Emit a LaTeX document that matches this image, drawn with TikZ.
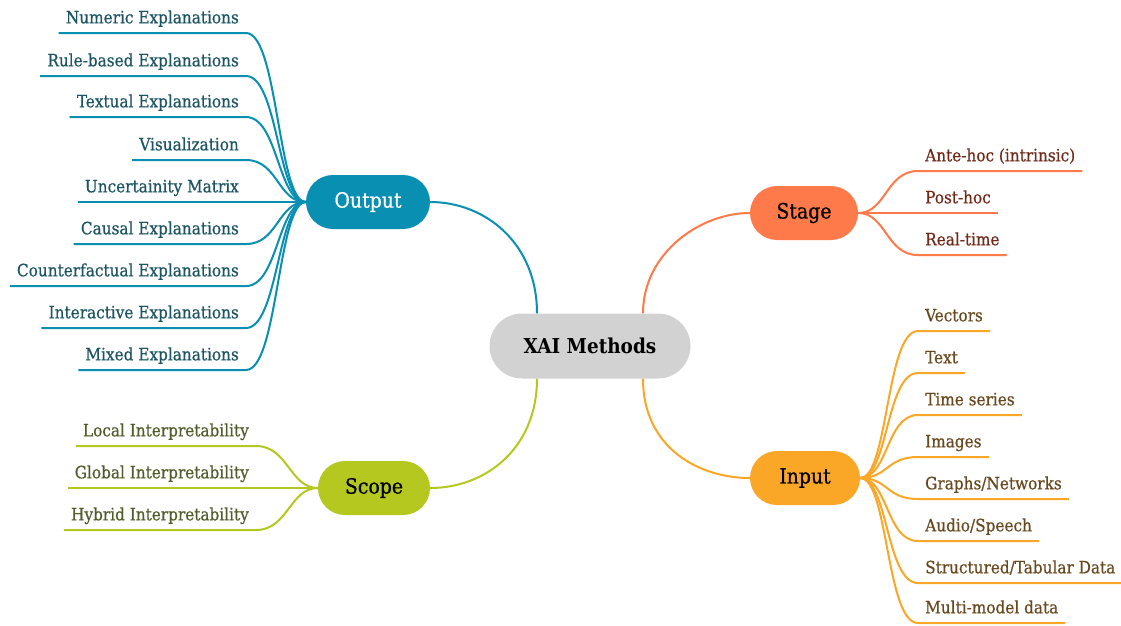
\documentclass[tikz,border=0pt]{standalone}
\usepackage{fontspec}
\setmainfont{DejaVu Serif Condensed}
\newfontfamily\leaffont{DejaVu Serif Condensed}[FakeBold=0.6]
\usepackage{tikz}
\usetikzlibrary{shapes.misc,positioning}
\definecolor{xaigray}{RGB}{210,210,210}
\definecolor{outblue}{RGB}{8,143,178}
\definecolor{outtext}{RGB}{28,84,98}
\definecolor{stagecoral}{RGB}{255,122,74}
\definecolor{stagetext}{RGB}{112,42,26}
\definecolor{inorange}{RGB}{250,167,40}
\definecolor{intext}{RGB}{104,72,30}
\definecolor{scopegreen}{RGB}{180,200,32}
\definecolor{scopetext}{RGB}{82,92,42}
\tikzset{
  hub/.style={rounded rectangle, minimum height=54pt, inner sep=0pt, font=\leaffont\fontsize{21}{24}\selectfont},
  leaf/.style={inner xsep=7pt, inner ysep=0pt, text height=13pt, text depth=9.5pt, font=\leaffont\fontsize{17}{19}\selectfont},
  link/.style={line width=2pt}
}

\begin{document}
\begin{tikzpicture}[x=1pt, y=-1pt]
        \useasboundingbox (0,0) rectangle (1121,625);

        % Centre and main branches
        \node[hub, fill=xaigray, minimum width=201pt, minimum height=65pt, font=\fontsize{20.5}{24}\selectfont\bfseries] (XAI) at (590,346) {XAI Methods};
        \node[hub, fill=outblue, text=white, minimum width=124pt] (Output) at (368,202) {Output};
        \node[hub, fill=stagecoral, minimum width=108pt] (Stage) at (804,213) {Stage};
        \node[hub, fill=inorange, minimum width=110pt] (Input) at (805,478) {Input};
        \node[hub, fill=scopegreen, minimum width=112pt] (Scope) at (374,488) {Scope};

        \draw[link, outblue] ([xshift=-53pt]XAI.north) .. controls +(0,-70) and +(55,0) .. (Output.east);
        \draw[link, stagecoral] ([xshift=53pt]XAI.north) .. controls +(0,-60) and +(-50,0) .. (Stage.west);
        \draw[link, inorange] ([xshift=53pt]XAI.south) .. controls +(0,70) and +(-50,0) .. (Input.west);
        \draw[link, scopegreen] ([xshift=-53pt]XAI.south) .. controls +(0,70) and +(55,0) .. (Scope.east);

        % Output leaves
        \foreach \y/\t [count=\i] in {33/{Numeric Explanations}, 76/{Rule-based Explanations},
            117/{Textual Explanations}, 160/{Visualization}, 202/{Uncertainity Matrix},
            244/{Causal Explanations}, 286/{Counterfactual Explanations},
            328/{Interactive Explanations}, 370/{Mixed Explanations}}
        {
            \node[leaf, text=outtext, anchor=south east] (out\i) at (246,\y) {\t};
            \draw[link, outblue] (out\i.south west) -- (out\i.south east)
                .. controls +(32,0) and +(-28,0) .. (Output.west);
        }

        % Stage leaves
        \foreach \y/\t [count=\i] in {171/{Ante-hoc (intrinsic)}, 213/{Post-hoc}, 255/{Real-time}}
        {
            \node[leaf, text=stagetext, anchor=south west] (st\i) at (918,\y) {\t};
            \draw[link, stagecoral] (Stage.east) .. controls +(28,0) and +(-32,0) .. (st\i.south west)
                -- (st\i.south east);
        }

        % Input leaves
        \foreach \y/\t [count=\i] in {331/{Vectors}, 373/{Text}, 415/{Time series}, 457/{Images},
            499/{Graphs/Networks}, 541/{Audio/Speech}, 583/{Structured/Tabular Data}, 623/{Multi-model data}}
        {
            \node[leaf, text=intext, anchor=south west] (in\i) at (918,\y) {\t};
            \draw[link, inorange] (Input.east) .. controls +(28,0) and +(-32,0) .. (in\i.south west)
                -- (in\i.south east);
        }

        % Scope leaves
        \foreach \y/\t [count=\i] in {446/{Local Interpretability}, 488/{Global Interpretability},
            530/{Hybrid Interpretability}}
        {
            \node[leaf, text=scopetext, anchor=south east] (sc\i) at (256,\y) {\t};
            \draw[link, scopegreen] (sc\i.south west) -- (sc\i.south east)
                .. controls +(32,0) and +(-28,0) .. (Scope.west);
        }
    \end{tikzpicture}
\end{document}
